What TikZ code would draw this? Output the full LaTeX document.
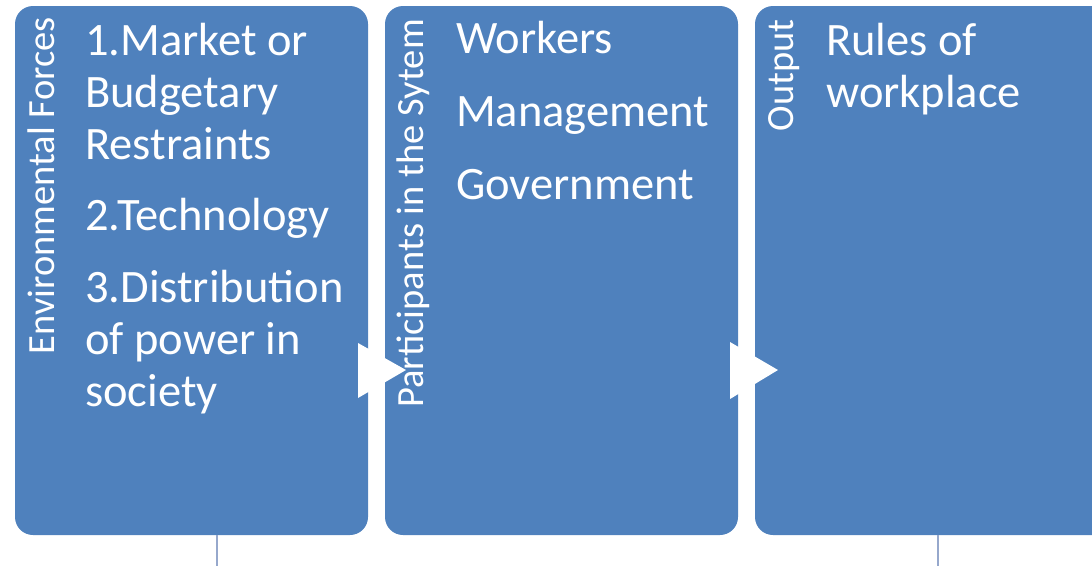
\documentclass[tikz,border=0pt]{standalone}
\usepackage{fontspec}
\setmainfont{Carlito}
\definecolor{boxblue}{RGB}{79,129,189}
\definecolor{linkgray}{RGB}{150,168,204}
\tikzset{
  stage/.style={fill=boxblue, rounded corners=18pt, inner sep=0pt},
  heading/.style={rotate=90, anchor=base east, inner sep=0pt, text=white, font=\fontsize{38.5}{40}\selectfont},
  items/.style={anchor=base west, inner sep=0pt, text=white, text width=300pt, align=flush left, font=\fontsize{46.5}{52}\selectfont},
  link/.style={draw=linkgray, line width=1.6pt}
}
\begin{document}
\begin{tikzpicture}[x=1pt,y=-1pt]
        \useasboundingbox (0,0) rectangle (1092,566);
        \clip (0,0) rectangle (1092,566);
        % the three stages
        \node [stage, minimum width=353, minimum height=529] (env) at (191.5,270.5) {};
        \node [stage, minimum width=353, minimum height=529] (part) at (561.5,270.5) {};
        \node [stage, minimum width=375, minimum height=529] (out) at (942.5,270.5) {};
        % arrows between them
        \fill [white] (358,343) -- (406,370) -- (358,398) -- cycle;
        \fill [white] (730,342) -- (778,370) -- (730,399) -- cycle;
        % headings
        \node [heading] (envhead) at (54,17) {Environmental Forces};
        \node [heading] (parthead) at (423,19) {Participants in the Sytem};
        \node [heading] (outhead) at (793,19) {Output};
        % contents
        \node [items] (envtext) at (85,55) {1.Market or\\Budgetary\\Restraints\\[19pt]2.Technology\\[20pt]3.Distribution\\of power in\\society};
        \node [items] (parttext) at (456,53) {Workers\\[21pt]Management\\[21pt]Government};
        \node [items] (outtext) at (826,55) {Rules of\\workplace};
        % lines leaving at the bottom
        \coordinate (envend) at (217,566);
        \coordinate (outend) at (938,566);
        \draw [link] (env.south -| envend) -- (envend);
        \draw [link] (out.south -| outend) -- (outend);
\end{tikzpicture}
\end{document}
